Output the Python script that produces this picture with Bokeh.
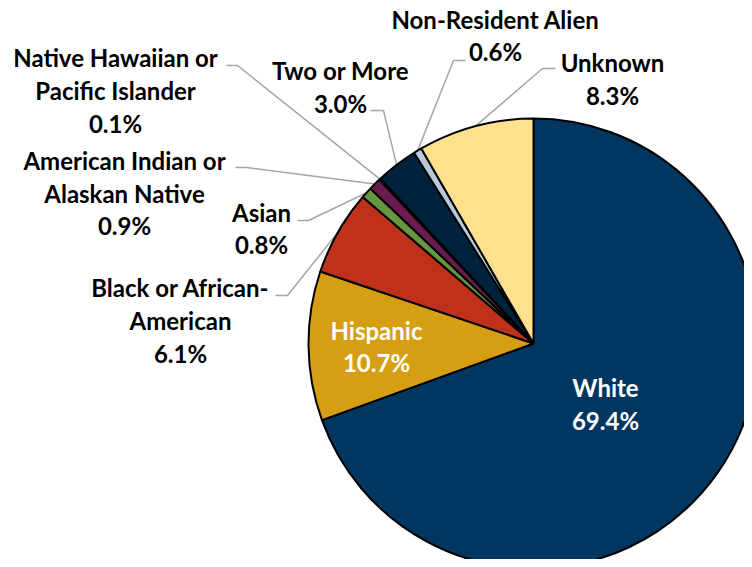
import math
from bokeh.plotting import figure
from bokeh.models import Range1d
from bokeh.core.properties import value
from bokeh.embed import file_html
from bokeh.resources import INLINE

# ---- data ----
categories = ["White", "Hispanic", "Black or African-American", "Asian",
              "American Indian or Alaskan Native", "Native Hawaiian or Pacific Islander",
              "Two or More", "Non-Resident Alien", "Unknown"]
percents = [69.4, 10.7, 6.1, 0.8, 0.9, 0.1, 3.0, 0.6, 8.3]
colors = ["#003660", "#D69E12", "#C0311C", "#679641", "#6A1C4E", "#1A1A1A",
          "#00233D", "#B8C9D9", "#FFE08C"]
label_lines = [["White", "69.4%"], ["Hispanic", "10.7%"],
               ["Black or African-", "American", "6.1%"], ["Asian", "0.8%"],
               ["American Indian or", "Alaskan Native", "0.9%"],
               ["Native Hawaiian or", "Pacific Islander", "0.1%"],
               ["Two or More", "3.0%"], ["Non-Resident Alien", "0.6%"],
               ["Unknown", "8.3%"]]

# ---- layout (picture pixel coordinates) ----
W, H = 744, 559
def px(x): return x
def py(y): return H - y

CX, CY, R = px(533), py(343), 225
label_pos = {  # center x, first line y, line step
    "White": (605, 387, 33), "Hispanic": (376, 330, 32),
    "Black or African-American": (180, 287, 33), "Asian": (261, 212, 32),
    "American Indian or Alaskan Native": (124, 160, 32.5),
    "Native Hawaiian or Pacific Islander": (115, 57, 33),
    "Two or More": (340, 70, 33), "Non-Resident Alien": (495, 19, 32),
    "Unknown": (612, 62, 33)}
leaders = {  # start point, elbow point
    "Native Hawaiian or Pacific Islander": ((226, 65), (237, 65)),
    "American Indian or Alaskan Native": ((235, 167), (246, 167)),
    "Asian": ((297, 220), (308, 220)),
    "Black or African-American": ((275, 295), (287, 295)),
    "Two or More": ((370, 110), (383, 110)),
    "Non-Resident Alien": ((465, 60), (453, 60)),
    "Unknown": ((555, 68), (542, 68))}
inside = {"White", "Hispanic"}

p = figure(width=W, height=H, output_backend="svg", toolbar_location=None,
           x_range=Range1d(0, W), y_range=Range1d(0, H), min_border=0)
p.axis.visible = False
p.grid.visible = False
p.outline_line_color = None
p.background_fill_color = "white"

total = sum(percents)
starts, ends, mids = [], [], []
cum = 0.0
for v in percents:
    f0 = cum / total
    cum += v
    f1 = cum / total
    starts.append(math.pi / 2 - 2 * math.pi * f0)
    ends.append(math.pi / 2 - 2 * math.pi * f1)
    mids.append(math.pi / 2 - 2 * math.pi * (f0 + f1) / 2)

# leader lines
for cat, mid in zip(categories, mids):
    if cat in leaders:
        (sx, sy), (ex, ey) = leaders[cat]
        tx = CX + R * math.cos(mid)
        ty = CY + R * math.sin(mid)
        p.line([px(sx), px(ex), tx], [py(sy), py(ey), ty],
               line_color="#A6A6A6", line_width=1.5)

p.wedge(x=[CX] * len(percents), y=[CY] * len(percents), radius=R,
        start_angle=starts, end_angle=ends, direction="clock",
        fill_color=colors, line_color="black", line_width=2)

for cat, lines in zip(categories, label_lines):
    x0, y0, step = label_pos[cat]
    xs = [px(x0)] * len(lines)
    ys = [py(y0 + i * step) for i in range(len(lines))]
    p.text(x=xs, y=ys, text=lines, text_align="center", text_baseline="middle",
           text_font=value("Lato"), text_font_style="bold", text_font_size="24px",
           text_color="white" if cat in inside else "black")

open("out.html", "w").write(file_html(p, INLINE))
